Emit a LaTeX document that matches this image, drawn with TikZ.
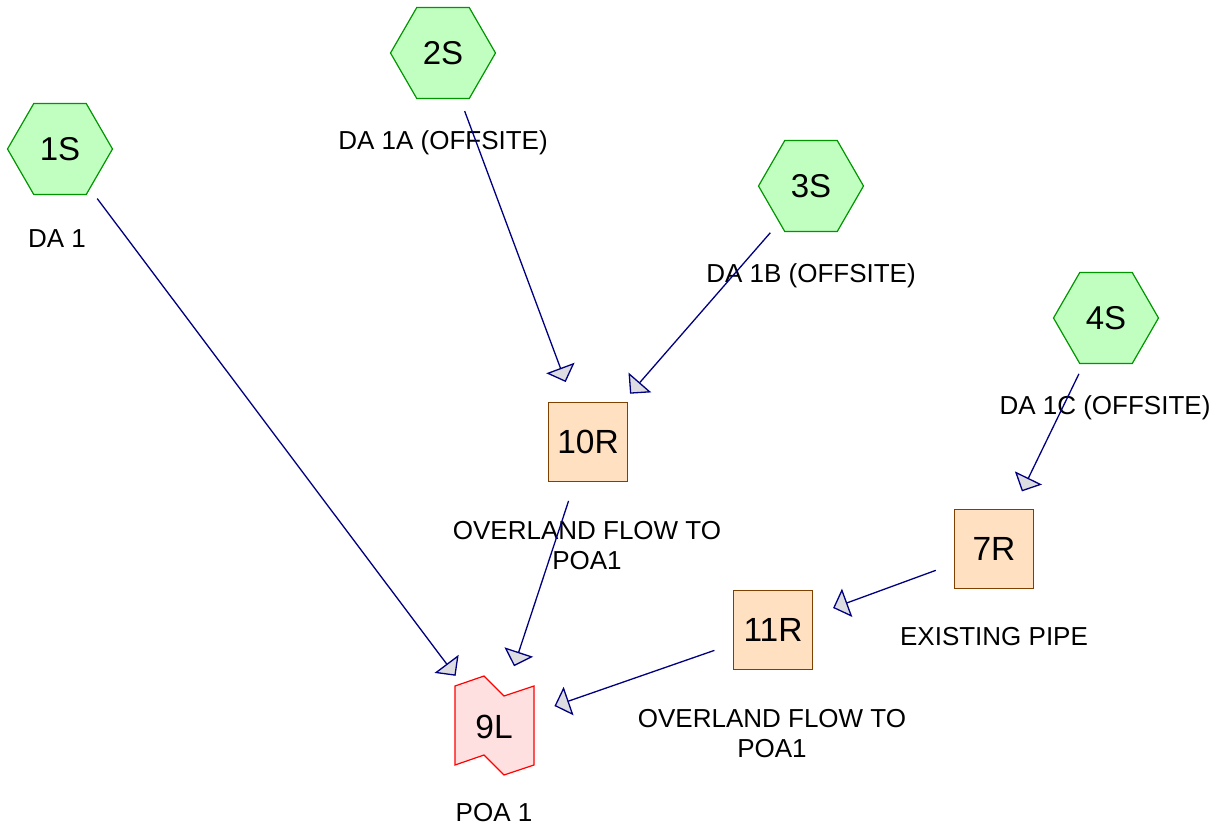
\documentclass[tikz,border=0pt]{standalone}
\usepackage{fontspec}
\setmainfont{Liberation Sans}
\usetikzlibrary{shapes.geometric,arrows.meta}
\definecolor{hexfill}{RGB}{192,255,192}
\definecolor{hexline}{RGB}{0,150,0}
\definecolor{boxfill}{RGB}{255,224,192}
\definecolor{boxline}{RGB}{128,64,0}
\definecolor{pondfill}{RGB}{255,224,224}
\definecolor{pondline}{RGB}{255,0,0}
\definecolor{linkc}{RGB}{0,0,128}
\definecolor{tipfill}{RGB}{220,220,225}
\begin{document}
\begin{tikzpicture}[x=1pt,y=-1pt,
  hexnode/.style={shape=regular polygon, regular polygon sides=6, minimum size=105pt, inner sep=0pt, fill=hexfill, draw=hexline, line width=1.2pt, font=\fontsize{33}{36}\selectfont},
  reachnode/.style={rectangle, minimum size=79pt, inner sep=0pt, fill=boxfill, draw=boxline, line width=1.3pt, font=\fontsize{33.5}{36}\selectfont},
  pondshape/.style={fill=pondfill, draw=pondline, line width=1.2pt, line join=miter},
  pondnode/.style={inner sep=0pt, font=\fontsize{33.5}{36}\selectfont},
  lbl/.style={font=\fontsize{26}{30}\selectfont, align=center, inner sep=0pt, anchor=base},
  link/.style={draw=linkc, line width=1.3pt, shorten <=62pt, shorten >=64pt, -{Triangle[length=15pt,width=30pt,fill=tipfill]}}
]
\useasboundingbox (0,0) rectangle (1226,831);

% sources
\node[hexnode] (n1S) at (60,149) {1S};
\node[hexnode] (n2S) at (443,53) {2S};
\node[hexnode] (n3S) at (811,186) {3S};
\node[hexnode] (n4S) at (1106,318) {4S};

% reaches
\node[reachnode] (n10R) at (588,442) {10R};
\node[reachnode] (n7R) at (994,549) {7R};
\node[reachnode] (n11R) at (773,630) {11R};

% pond
\coordinate (c9) at (494,727);
\draw[pondshape] (c9) +(-39,-41) -- +(-10,-51) -- +(10,-31) -- +(40,-41) -- +(40,38) -- +(10,48) -- +(-10,28) -- +(-39,38) -- cycle;
\node[pondnode] (n9L) at (c9) {9L};

% labels
\node[lbl] (l1S) at (57,247) {DA 1};
\node[lbl] (l2S) at (443,149) {DA 1A (OFFSITE)};
\node[lbl] (l3S) at (811,282) {DA 1B (OFFSITE)};
\node[lbl] (l4S) at (1105,414) {DA 1C (OFFSITE)};
\node[lbl] (l10R) at (587,569) {OVERLAND FLOW TO\\POA1};
\node[lbl] (l7R) at (994,645) {EXISTING PIPE};
\node[lbl] (l11R) at (772,757) {OVERLAND FLOW TO\\POA1};
\node[lbl] (l9L) at (494,821) {POA 1};

% links
\draw[link] (n1S.center) -- (n9L.center);
\draw[link] (n2S.center) -- (n10R.center);
\draw[link] (n3S.center) -- (n10R.center);
\draw[link] (n4S.center) -- (n7R.center);
\draw[link] (n10R.center) -- (n9L.center);
\draw[link] (n7R.center) -- (n11R.center);
\draw[link] (n11R.center) -- (n9L.center);
\end{tikzpicture}
\end{document}
